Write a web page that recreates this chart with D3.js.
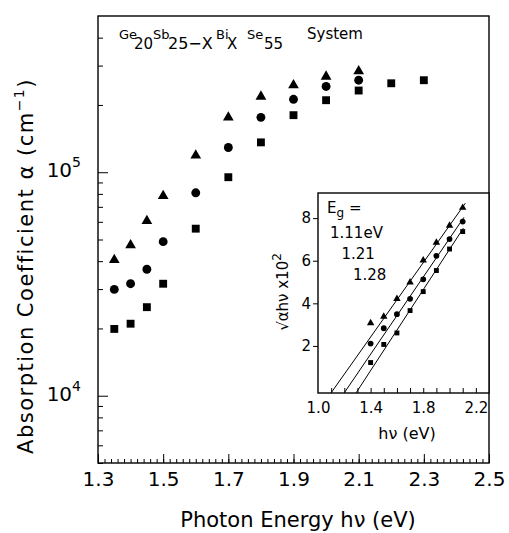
<!DOCTYPE html>
<html>
<head>
<meta charset="utf-8">
<script src="https://cdn.jsdelivr.net/npm/d3@7"></script>
<style>
  body { margin: 0; background: #fff; }
  svg { font-family: "DejaVu Sans", sans-serif; }
</style>
</head>
<body>
<div id="chart"></div>
<script>
// main panel: absorption coefficient vs photon energy (three compositions)
const energy = [1.35, 1.4, 1.45, 1.5, 1.6, 1.7, 1.8, 1.9, 2.0, 2.1];
const energySq = [1.35, 1.4, 1.45, 1.5, 1.6, 1.7, 1.8, 1.9, 2.0, 2.1, 2.2, 2.3];
const alphaTri = [4.05e4, 4.72e4, 6.06e4, 7.84e4, 1.19e5, 1.76e5, 2.18e5, 2.45e5, 2.68e5, 2.83e5];
const alphaCirc = [2.99e4, 3.17e4, 3.68e4, 4.89e4, 8.09e4, 1.29e5, 1.76e5, 2.12e5, 2.42e5, 2.58e5];
const alphaSq = [1.99e4, 2.10e4, 2.49e4, 3.17e4, 5.59e4, 0.95e5, 1.36e5, 1.80e5, 2.10e5, 2.32e5, 2.50e5, 2.58e5];
const xTickLabels = ["1.3", "1.5", "1.7", "1.9", "2.1", "2.3", "2.5"];
const yDecades = [4, 5];

// inset: sqrt(alpha h nu) x 10^2 vs h nu
const insetEnergy = [1.4, 1.5, 1.6, 1.7, 1.8, 1.9, 2.0, 2.1];
const rootTri = [3.07, 3.38, 4.21, 4.99, 6.02, 6.85, 7.65, 8.49];
const rootCirc = [2.11, 2.83, 3.49, 4.21, 5.13, 6.23, 7.02, 7.84];
const rootSq = [1.22, 2.07, 2.61, 3.66, 4.55, 5.54, 6.55, 7.37];
const fitTri = [[1.10, -0.2], [2.12, 8.70]];
const fitCirc = [[1.20, -0.2], [2.11, 8.04]];
const fitSq = [[1.29, -0.2], [2.105, 7.53]];
const insetXLabels = ["1.0", "1.4", "1.8", "2.2"];
const insetYLabels = ["2", "4", "6", "8"];
const egLabels = ["1.11eV", "1.21", "1.28"];

const width = 509, height = 533;
const margin = { top: 16, right: 20, bottom: 70, left: 98 };

const svg = d3.select('#chart')
  .append('svg')
  .attr('width', width)
  .attr('height', height);

const xScale = d3.scaleLinear()
  .domain([1.3, 2.5])
  .range([margin.left, width - margin.right]);

const yScale = d3.scaleLog()
  .domain([5e3, 5e5])
  .range([height - margin.bottom, margin.top]);

// minor x ticks every 0.02, major every 0.2 (pointing inward)
const xMinor = d3.range(0, 61).map(i => 1.3 + i * 0.02);
svg.append('g')
  .attr('transform', `translate(0, ${yScale(5e3)})`)
  .call(d3.axisBottom(xScale).tickValues(xMinor).tickSize(-4).tickFormat(''))
  .call(g => g.select('.domain').remove());

svg.append('g')
  .attr('class', 'xmajor')
  .attr('transform', `translate(0, ${yScale(5e3)})`)
  .call(d3.axisBottom(xScale)
    .tickValues(xTickLabels.map(Number))
    .tickSize(-9)
    .tickPadding(9)
    .tickFormat((d, i) => xTickLabels[i]))
  .call(g => g.select('.domain').remove())
  .call(g => g.selectAll('text').attr('font-size', 20).attr('fill', '#000').attr('font-family', '"DejaVu Sans", sans-serif'));

// y ticks on log axis
const yMinor = [];
[5e3, 6e3, 7e3, 8e3, 9e3].forEach(v => yMinor.push(v));
for (let m = 2; m <= 9; m++) yMinor.push(m * 1e4);
for (let m = 2; m <= 4; m++) yMinor.push(m * 1e5);

svg.append('g')
  .attr('transform', `translate(${margin.left}, 0)`)
  .call(d3.axisLeft(yScale).tickValues(yMinor).tickSize(-5).tickFormat(''))
  .call(g => g.select('.domain').remove());

svg.append('g')
  .attr('transform', `translate(${margin.left}, 0)`)
  .call(d3.axisLeft(yScale).tickValues(yDecades.map(e => Math.pow(10, e))).tickSize(-10).tickFormat(''))
  .call(g => g.select('.domain').remove());

const yLab = svg.append('g').selectAll('text')
  .data(yDecades)
  .join('text')
  .attr('x', 81)
  .attr('y', d => yScale(Math.pow(10, d)) + 5)
  .attr('text-anchor', 'end')
  .attr('font-size', 20)
  .text('10');
yLab.append('tspan')
  .attr('dy', -10)
  .attr('font-size', 14)
  .text(d => d);

// plot frame
svg.append('rect')
  .attr('x', xScale(1.3))
  .attr('y', yScale(5e5))
  .attr('width', xScale(2.5) - xScale(1.3))
  .attr('height', yScale(5e3) - yScale(5e5))
  .attr('fill', 'none')
  .attr('stroke', '#000')
  .attr('stroke-width', 1.4);

// markers
const sym = {
  tri: d3.symbol().type(d3.symbolTriangle).size(50),
  circ: d3.symbol().type(d3.symbolCircle).size(62),
  sq: d3.symbol().type(d3.symbolSquare).size(62)
};

function plotSeries(xs, ys, xs_, ys_, gen) {
  svg.append('g').selectAll('path')
    .data(xs.map((x, i) => ({ x: x, y: ys[i] })))
    .join('path')
    .attr('transform', d => `translate(${xs_(d.x)}, ${ys_(d.y)})`)
    .attr('d', gen)
    .attr('fill', '#000');
}
plotSeries(energy, alphaTri, xScale, yScale, sym.tri);
plotSeries(energy, alphaCirc, xScale, yScale, sym.circ);
plotSeries(energySq, alphaSq, xScale, yScale, sym.sq);

// title inside the frame
const title = svg.append('text')
  .attr('y', 39)
  .attr('fill', '#000');
const parts = [
  { t: 'Ge', x: 119, y: 39, s: 13 },
  { t: '20', x: 134, y: 49, s: 15 },
  { t: 'Sb', x: 153, y: 39, s: 13 },
  { t: '25\u2212X', x: 168, y: 49, s: 16 },
  { t: 'Bi', x: 216, y: 39, s: 13 },
  { t: 'X', x: 227, y: 49, s: 15 },
  { t: 'Se', x: 247, y: 39, s: 13 },
  { t: '55', x: 264, y: 49, s: 15 },
  { t: 'System', x: 307, y: 39, s: 15 }
];
title.selectAll('tspan')
  .data(parts)
  .join('tspan')
  .attr('x', d => d.x)
  .attr('y', d => d.y)
  .attr('font-size', d => d.s)
  .text(d => d.t);

// axis titles
svg.append('text')
  .attr('x', 298)
  .attr('y', 527)
  .attr('text-anchor', 'middle')
  .attr('font-size', 21)
  .text('Photon Energy h\u03bd (eV)');

const yTitle = svg.append('text')
  .attr('transform', 'translate(33, 266) rotate(-90)')
  .attr('text-anchor', 'middle')
  .attr('font-size', 21)
  .attr('letter-spacing', 1.5)
  .text('Absorption Coefficient \u03b1 (cm');
yTitle.append('tspan').attr('dy', -9).attr('font-size', 14).text('\u22121');
yTitle.append('tspan').attr('dy', 9).text(')');

// ---------- inset ----------
const ix = d3.scaleLinear().domain([1.0, 2.3]).range([318, 489]);
const iy = d3.scaleLinear().domain([-0.21, 9.18]).range([393, 193]);

svg.append('rect')
  .attr('x', ix(1.0))
  .attr('y', iy(9.18))
  .attr('width', ix(2.3) - ix(1.0))
  .attr('height', iy(-0.21) - iy(9.18))
  .attr('fill', '#fff')
  .attr('stroke', '#000')
  .attr('stroke-width', 1.4);

const inset = svg.append('g');

inset.append('g')
  .attr('transform', `translate(0, ${iy(-0.21)})`)
  .call(d3.axisBottom(ix).tickValues(d3.range(1, 13).map(i => 1.0 + i * 0.1)).tickSize(-5).tickFormat(''))
  .call(g => g.select('.domain').remove());

inset.append('g')
  .attr('transform', `translate(0, ${iy(-0.21)})`)
  .call(d3.axisBottom(ix).tickValues(insetXLabels.map(Number)).tickSize(0).tickPadding(9)
    .tickFormat((d, i) => insetXLabels[i]))
  .call(g => g.select('.domain').remove())
  .call(g => g.selectAll('text').attr('font-size', 15).attr('fill', '#000').attr('font-family', '"DejaVu Sans", sans-serif'));

inset.append('g')
  .attr('transform', `translate(${ix(1.0)}, 0)`)
  .call(d3.axisLeft(iy).tickValues(insetYLabels.map(Number)).tickSize(5).tickPadding(2)
    .tickFormat((d, i) => insetYLabels[i]))
  .call(g => g.select('.domain').remove())
  .call(g => g.selectAll('text').attr('font-size', 15).attr('fill', '#000').attr('font-family', '"DejaVu Sans", sans-serif'));

// fitted lines
const fitLine = d3.line().x(d => ix(d[0])).y(d => iy(d[1]));
[fitTri, fitCirc, fitSq].forEach(f => {
  inset.append('path')
    .datum(f)
    .attr('d', fitLine)
    .attr('fill', 'none')
    .attr('stroke', '#000')
    .attr('stroke-width', 1);
});

const isym = {
  tri: d3.symbol().type(d3.symbolTriangle).size(24),
  circ: d3.symbol().type(d3.symbolCircle).size(26),
  sq: d3.symbol().type(d3.symbolSquare).size(24)
};
function plotInset(ys, gen) {
  inset.append('g').selectAll('path')
    .data(insetEnergy.map((x, i) => ({ x: x, y: ys[i] })))
    .join('path')
    .attr('transform', d => `translate(${ix(d.x)}, ${iy(d.y)})`)
    .attr('d', gen)
    .attr('fill', '#000');
}
plotInset(rootTri, isym.tri);
plotInset(rootCirc, isym.circ);
plotInset(rootSq, isym.sq);

// inset labels
inset.append('text')
  .attr('x', 407)
  .attr('y', 439)
  .attr('text-anchor', 'middle')
  .attr('font-size', 16)
  .text('h\u03bd (eV)');

const iyTitle = inset.append('text')
  .attr('transform', 'translate(288, 292) rotate(-90)')
  .attr('text-anchor', 'middle')
  .attr('font-size', 15)
  .text('\u221a\u03b1h\u03bd x10');
iyTitle.append('tspan').attr('dy', -7).attr('font-size', 12).text('2');

const eg = inset.append('text')
  .attr('x', 327)
  .attr('y', 213)
  .attr('font-size', 15)
  .text('E');
eg.append('tspan').attr('dy', 4).attr('font-size', 12).text('g');
eg.append('tspan').attr('dy', -4).text(' =');

inset.selectAll('.eg')
  .data(egLabels)
  .join('text')
  .attr('class', 'eg')
  .attr('x', (d, i) => 330 + i * 11.5)
  .attr('y', (d, i) => 238 + i * 21)
  .attr('font-size', 15)
  .text(d => d);
</script>
</body>
</html>
